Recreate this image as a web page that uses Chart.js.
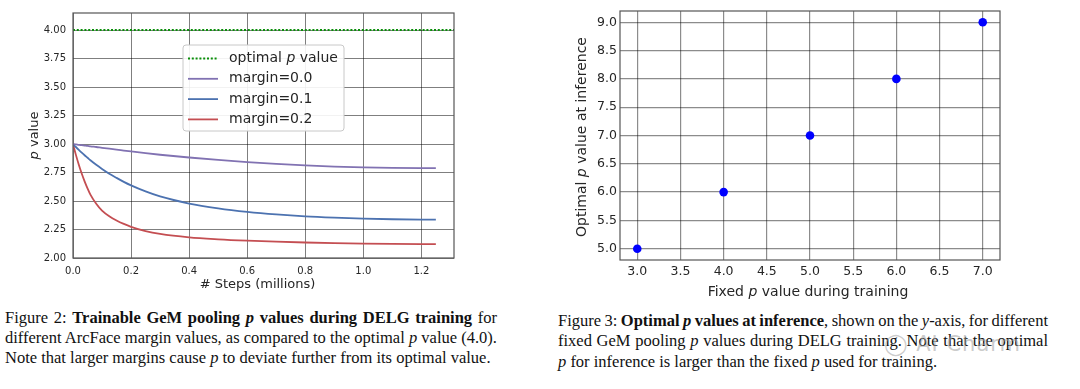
<!DOCTYPE html>
<html>
<head>
<meta charset="utf-8">
<script src="https://cdn.jsdelivr.net/npm/chart.js@4.4.0/dist/chart.umd.min.js"></script>
<style>
  html, body { margin: 0; padding: 0; background: #fff; }
  body { width: 1080px; height: 389px; position: relative; overflow: hidden; }
  #left { position: absolute; left: 0; top: 0; width: 470px; height: 300px; }
  #right { position: absolute; left: 540px; top: 0; width: 540px; height: 305px; }
  .cap { position: absolute; font-family: "Liberation Serif", "Times New Roman", serif;
         font-size: 16.5px; line-height: 20.3px; color: #111; }
  .cap div { white-space: nowrap; height: 20.3px; }
  .cap div.j { text-align: justify; text-align-last: justify; white-space: normal; word-spacing: -2px; }
  .mark { position: absolute; left: 884px; top: 332px; font-family: "DejaVu Sans", sans-serif;
          font-size: 21px; color: rgba(160,160,160,0.55); letter-spacing: 1px; }
</style>
</head>
<body>
<div id="left"><canvas id="gemChart"></canvas></div>
<div id="right"><canvas id="pChart"></canvas></div>

<div class="cap" style="left:5px; top:307.5px; width:492px;">
  <div class="j">Figure 2: <b>Trainable GeM pooling <i>p</i> values during DELG training</b> for</div>
  <div class="j">different ArcFace margin values, as compared to the optimal <i>p</i> value (4.0).</div>
  <div>Note that larger margins cause <i>p</i> to deviate further from its optimal value.</div>
</div>
<div class="cap" style="left:558px; top:311px; width:490px;">
  <div class="j">Figure 3: <b>Optimal <i>p</i> values at inference</b>, shown on the <i>y</i>-axis, for different</div>
  <div class="j">fixed GeM pooling <i>p</i> values during DELG training. Note that the optimal</div>
  <div><i>p</i> for inference is larger than the fixed <i>p</i> used for training.</div>
</div>
<div class="mark">&#9711; AI Charm</div>

<script>
// Figure 2: trainable p during training (steps in millions)
const steps    = [0, 0.01, 0.02, 0.03, 0.04, 0.05, 0.06, 0.08, 0.1, 0.125, 0.15, 0.175, 0.2, 0.25, 0.3, 0.4, 0.5, 0.6, 0.7, 0.8, 0.9, 1.0, 1.1, 1.25]
const margin00 = [3.0, 2.997, 2.993, 2.990, 2.987, 2.984, 2.980, 2.974, 2.967, 2.959, 2.951, 2.943, 2.935, 2.920, 2.906, 2.882, 2.861, 2.842, 2.826, 2.812, 2.802, 2.795, 2.791, 2.789]
const margin01 = [3.0, 2.974, 2.949, 2.925, 2.902, 2.880, 2.858, 2.818, 2.782, 2.740, 2.703, 2.668, 2.637, 2.584, 2.540, 2.478, 2.436, 2.405, 2.382, 2.365, 2.354, 2.346, 2.340, 2.336]
const margin02 = [3.0, 2.905, 2.819, 2.742, 2.673, 2.611, 2.556, 2.476, 2.416, 2.366, 2.329, 2.299, 2.274, 2.236, 2.211, 2.181, 2.164, 2.152, 2.143, 2.136, 2.131, 2.127, 2.124, 2.121]
const optimalP = 4.0
const stepsMin = 0
const stepsMax = 1.3125

// Figure 3: fixed p vs optimal p at inference
const fixedP     = [3.0, 4.0, 5.0, 6.0, 7.0]
const inferenceP = [5.0, 6.0, 7.0, 8.0, 9.0]

const FONT = '"DejaVu Sans", "Noto Sans", sans-serif'
const TEXT = '#262626'

// text with $...$ parts set in italic
function richParts(text) {
  return text.split('$').map((s, i) => ({ s, it: i % 2 === 1 })).filter(p => p.s.length)
}
function richWidth(ctx, text, size) {
  let w = 0
  richParts(text).forEach(p => {
    ctx.font = (p.it ? 'italic ' : '') + size + 'px ' + FONT
    w += ctx.measureText(p.s).width
  })
  return w
}
function drawRich(ctx, text, x, y, size, rotate, align) {
  ctx.save()
  ctx.translate(x, y)
  if (rotate) ctx.rotate(-Math.PI / 2)
  ctx.textBaseline = 'middle'
  ctx.textAlign = 'left'
  let cx = align === 'left' ? 0 : -richWidth(ctx, text, size) / 2
  richParts(text).forEach(p => {
    ctx.font = (p.it ? 'italic ' : '') + size + 'px ' + FONT
    ctx.fillText(p.s, cx, 0)
    cx += ctx.measureText(p.s).width
  })
  ctx.restore()
}

const paperDecor = {
  id: 'paperDecor',
  afterDraw(chart, args, o) {
    const ctx = chart.ctx
    const a = chart.chartArea
    ctx.save()
    ctx.strokeStyle = o.frameColor
    ctx.lineWidth = o.frameWidth
    ctx.strokeRect(a.left, a.top, a.right - a.left, a.bottom - a.top)
    ctx.fillStyle = TEXT
    drawRich(ctx, o.xTitle, (a.left + a.right) / 2 + o.xTitleDx, o.xTitleY, o.titleSize, false)
    drawRich(ctx, o.yTitle, o.yTitleX, (a.top + a.bottom) / 2 + o.yTitleDy, o.titleSize, true)

    const lg = o.legend
    if (lg) {
      const bx = a.left + lg.dx, by = a.top + lg.dy
      ctx.beginPath()
      ctx.roundRect(bx, by, lg.w, lg.h, 3)
      ctx.fillStyle = 'rgba(255,255,255,0.9)'
      ctx.fill()
      ctx.strokeStyle = '#c8c8c8'
      ctx.lineWidth = 1
      ctx.stroke()
      chart.data.datasets.forEach((ds, i) => {
        const ry = by + lg.first + i * lg.row
        ctx.beginPath()
        ctx.strokeStyle = ds.borderColor
        ctx.lineWidth = ds.borderWidth
        ctx.setLineDash(ds.borderDash || [])
        ctx.moveTo(bx + 5, ry)
        ctx.lineTo(bx + 35, ry)
        ctx.stroke()
        ctx.setLineDash([])
        ctx.fillStyle = TEXT
        drawRich(ctx, ds.label, bx + 46, ry, lg.size, false, 'left')
      })
    }
    ctx.restore()
  }
}

const toXY = (xs, ys) => xs.map((x, i) => ({ x: x, y: ys[i] }))

new Chart(document.getElementById('gemChart'), {
  type: 'line',
  data: {
    datasets: [
      { label: 'optimal $p$ value', data: [{ x: stepsMin, y: optimalP }, { x: stepsMax, y: optimalP }],
        borderColor: '#0a8f0a', borderWidth: 2, borderDash: [2, 1.8], pointRadius: 0 },
      { label: 'margin=0.0', data: toXY(steps, margin00), borderColor: '#8172b2', borderWidth: 1.8,
        pointRadius: 0, cubicInterpolationMode: 'monotone' },
      { label: 'margin=0.1', data: toXY(steps, margin01), borderColor: '#4c72b0', borderWidth: 1.8,
        pointRadius: 0, cubicInterpolationMode: 'monotone' },
      { label: 'margin=0.2', data: toXY(steps, margin02), borderColor: '#c44e52', borderWidth: 1.8,
        pointRadius: 0, cubicInterpolationMode: 'monotone' }
    ]
  },
  options: {
    responsive: true,
    maintainAspectRatio: false,
    animation: false,
    layout: { padding: { top: 11, right: 16, left: 0, bottom: 0 } },
    scales: {
      x: {
        type: 'linear', min: stepsMin, max: stepsMax,
        afterFit: s => { s.height = 42 },
        grid: { color: 'rgba(0,0,0,0.5)', lineWidth: 1, drawTicks: false },
        border: { display: false },
        ticks: { stepSize: 0.2, includeBounds: false, padding: 7, color: TEXT,
                 font: { family: FONT, size: 10 }, maxRotation: 0,
                 callback: v => v.toFixed(1) }
      },
      y: {
        min: 2.0, max: 4.15,
        afterFit: s => { s.width = 73 },
        grid: { color: 'rgba(0,0,0,0.5)', lineWidth: 1, drawTicks: false },
        border: { display: false },
        ticks: { stepSize: 0.25, includeBounds: false, padding: 7, color: TEXT,
                 font: { family: FONT, size: 10 }, callback: v => v.toFixed(2) }
      }
    },
    plugins: {
      legend: { display: false },
      tooltip: { enabled: false },
      paperDecor: {
        frameColor: '#555', frameWidth: 1.2,
        xTitle: '# Steps (millions)', xTitleY: 285, xTitleDx: -6,
        yTitle: '$p$ value', yTitleX: 35, yTitleDy: 0, titleSize: 13,
        legend: { dx: 110, dy: 32, w: 161, h: 86, first: 13.5, row: 20.3, size: 14 }
      }
    }
  },
  plugins: [paperDecor]
})

new Chart(document.getElementById('pChart'), {
  type: 'scatter',
  data: {
    datasets: [{
      label: 'optimal p', data: toXY(fixedP, inferenceP),
      backgroundColor: '#0000ff', borderWidth: 0, pointRadius: 4.3
    }]
  },
  options: {
    responsive: true,
    maintainAspectRatio: false,
    animation: false,
    layout: { padding: { top: 11, right: 80, left: 0, bottom: 0 } },
    scales: {
      x: {
        type: 'linear', min: 2.8, max: 7.2,
        afterFit: s => { s.height = 45 },
        grid: { color: 'rgba(0,0,0,0.45)', lineWidth: 1.2, drawTicks: false },
        border: { display: false },
        ticks: { stepSize: 0.5, includeBounds: false, padding: 4, color: TEXT,
                 font: { family: FONT, size: 12.5 }, maxRotation: 0,
                 callback: v => v.toFixed(1) }
      },
      y: {
        min: 4.8, max: 9.2,
        afterFit: s => { s.width = 80 },
        grid: { color: 'rgba(0,0,0,0.45)', lineWidth: 1.2, drawTicks: false },
        border: { display: false },
        ticks: { stepSize: 0.5, includeBounds: false, padding: 3, color: TEXT,
                 font: { family: FONT, size: 12.5 }, callback: v => v.toFixed(1) }
      }
    },
    plugins: {
      legend: { display: false },
      tooltip: { enabled: false },
      paperDecor: {
        frameColor: '#555', frameWidth: 1.2,
        xTitle: 'Fixed $p$ value during training', xTitleY: 292, xTitleDx: -2,
        yTitle: 'Optimal $p$ value at inference', yTitleX: 42, yTitleDy: 1.5, titleSize: 14
      }
    }
  },
  plugins: [paperDecor]
})
</script>
</body>
</html>
